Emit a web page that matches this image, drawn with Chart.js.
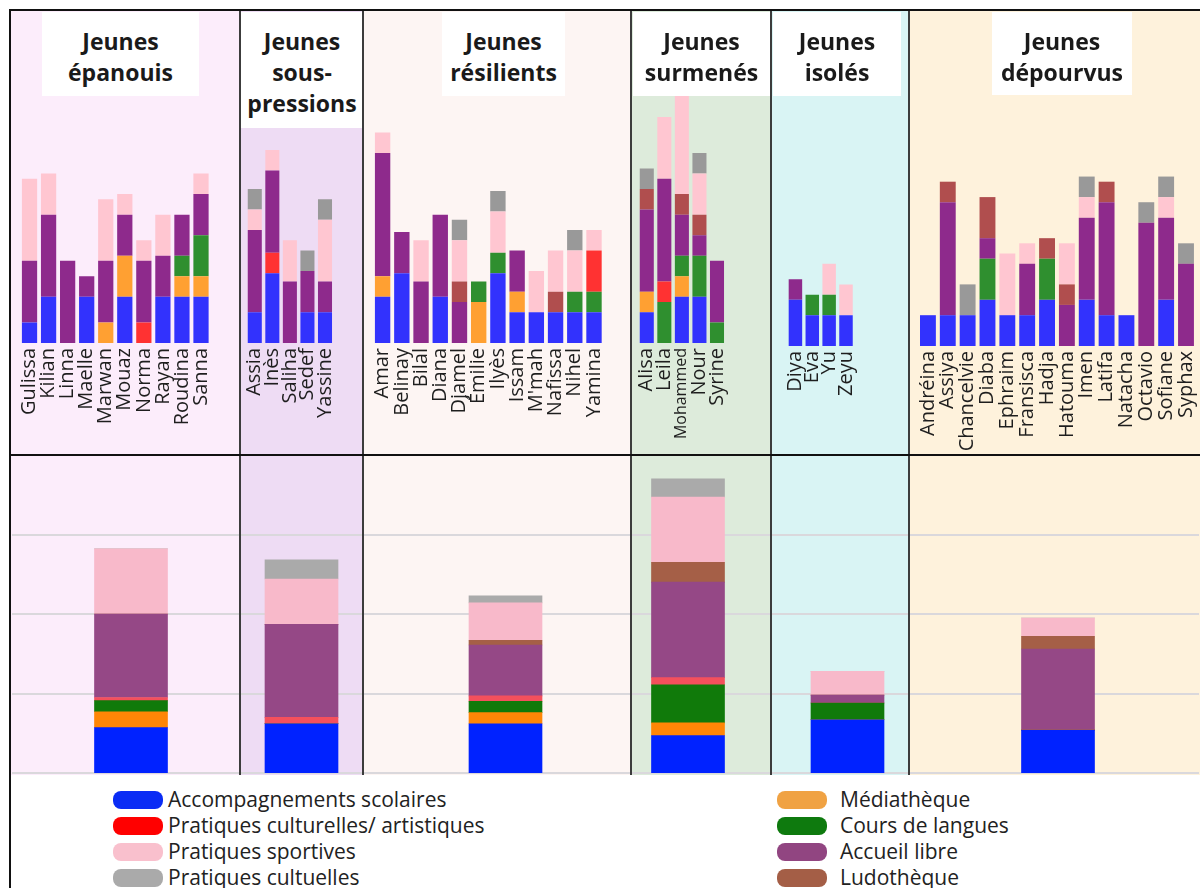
<!DOCTYPE html>
<html><head><meta charset="utf-8">
<script src="https://cdn.jsdelivr.net/npm/chart.js@4/dist/chart.umd.min.js"></script>
<style>
html,body{margin:0;padding:0;background:#fff;}
body{width:1200px;height:888px;overflow:hidden;position:relative;font-family:'Open Sans',sans-serif;}
.abs{position:absolute;}
.title{position:absolute;background:#fff;font-weight:700;font-size:23px;line-height:31px;text-align:center;color:#1a1a1a;box-sizing:border-box;padding-top:14px;z-index:3;}
.sep{position:absolute;background:#3c3c3c;z-index:4;}
.frame{position:absolute;background:#111;z-index:5;}
.leg{position:absolute;font-size:21px;color:#222;line-height:24px;white-space:nowrap;}
.sw{position:absolute;width:50px;height:18px;border-radius:8px;}
canvas{position:absolute;z-index:2;}
</style></head><body>
<script>
// ---------------- DATA ----------------
const SERIES = ['Accompagnements scolaires','Pratiques culturelles/ artistiques','Pratiques sportives','Pratiques cultuelles','Médiathèque','Cours de langues','Accueil libre','Ludothèque'];
const STACK_ORDER = [0,4,5,1,6,7,2,3];

const GROUP_TITLES = [['Jeunes','épanouis'],['Jeunes','sous-','pressions'],['Jeunes','résilients'],['Jeunes','surmenés'],['Jeunes','isolés'],['Jeunes','dépourvus']];

// rows follow SERIES order
const epanouisNames = ['Gulissa','Kilian','Linna','Maelle','Marwan','Mouaz','Norma','Rayan','Roudina','Sanna'];
const epanouisValues = [
  [2,4.5,0,4.5,0,4.5,0,4.5,4.5,4.5],
  [0,0,0,0,0,0,2,0,0,0],
  [8,4,0,0,6,2,2,4,0,2],
  [0,0,0,0,0,0,0,0,0,0],
  [0,0,0,0,2,4,0,0,2,2],
  [0,0,0,0,0,0,0,0,2,4],
  [6,8,8,2,6,4,6,4,4,4],
  [0,0,0,0,0,0,0,0,0,0]
];
const pressionsNames = ['Assia','Inès','Saliha','Sedef','Yassine'];
const pressionsValues = [
  [3,6.8,0,3,3],
  [0,2,0,0,0],
  [2,2,4,0,6],
  [2,0,0,2,2],
  [0,0,0,0,0],
  [0,0,0,0,0],
  [8,8,6,4,3],
  [0,0,0,0,0]
];
const resilientsNames = ['Amar','Belinay','Bilal','Diana','Djamel','Émilie','Ilyès','Issam',"M'mah",'Nafissa','Nihel','Yamina'];
const resilientsValues = [
  [4.5,6.8,0,4.5,0,0,6.8,3,3,3,3,3],
  [0,0,0,0,0,0,0,0,0,0,0,4],
  [2,0,4,0,4,0,4,0,4,4,4,2],
  [0,0,0,0,2,0,2,0,0,0,2,0],
  [2,0,0,0,0,4,0,2,0,0,0,0],
  [0,0,0,0,0,2,2,0,0,0,2,2],
  [12,4,6,8,4,0,0,4,0,0,0,0],
  [0,0,0,0,2,0,0,0,0,2,0,0]
];
const surmenesNames = ['Alisa','Leila','Mohammed','Nour','Syrine'];
const surmenesValues = [
  [3,0,4.5,4.5,0],
  [0,2,0,0,0],
  [0,6,10,4,0],
  [2,0,0,2,0],
  [2,0,2,0,0],
  [0,4,2,4,2],
  [8,10,4,2,6],
  [2,0,2,2,0]
];
const isolesNames = ['Diya','Eva','Yu','Zeyu'];
const isolesValues = [
  [4.5,3,3,3],
  [0,0,0,0],
  [0,0,3,3],
  [0,0,0,0],
  [0,0,0,0],
  [0,2,2,0],
  [2,0,0,0],
  [0,0,0,0]
];
const depourvusNames = ['Andréina','Assiya','Chancelvie','Diaba','Ephraim','Fransisca','Hadja','Hatouma','Imen','Latifa','Natacha','Octavio','Sofiane','Syphax'];
const depourvusValues = [
  [3,3,3,4.5,3,3,4.5,0,4.5,3,3,0,4.5,0],
  [0,0,0,0,0,0,0,0,0,0,0,0,0,0],
  [0,0,0,0,6,2,0,4,2,0,0,0,2,0],
  [0,0,3,0,0,0,0,0,2,0,0,2,2,2],
  [0,0,0,0,0,0,0,0,0,0,0,0,0,0],
  [0,0,0,4,0,0,4,0,0,0,0,0,0,0],
  [0,11,0,2,0,5,0,4,8,11,0,12,8,8],
  [0,2,0,4,0,0,2,2,0,2,0,0,0,0]
];
// group averages (bottom panel), rows follow SERIES order, columns = groups
const averageValues = [
  [0.57,0.62,0.62,0.47,0.67,0.54],
  [0.04,0.08,0.07,0.09,0,0.01],
  [0.82,0.57,0.47,0.82,0.30,0.23],
  [0,0.24,0.09,0.23,0,0],
  [0.20,0,0.14,0.16,0,0],
  [0.14,0,0.14,0.48,0.21,0],
  [1.05,1.17,0.64,1.20,0.10,1.01],
  [0,0,0.06,0.25,0,0.16]
];
const AVG_GRID_VALUES = [0,1,2,3];
const TOP_MAX = 26;
const AVG_MAX = 4;

// ---------------- STYLES / LAYOUT ----------------
const TOP_COLORS = ['#3232fd','#ff3232','#ffc6d1','#999999','#ffa032','#2f8f2f','#8e2a8c','#b04e4e'];
const AVG_COLORS = ['#0022ff','#f4505c','#f8b9ca','#aaaaaa','#ff8606','#107a0a','#954886','#a55f47'];
const LEGEND_COLORS = ['#0a2cf5','#ff0000','#f9c0cd','#aaaaaa','#f0a243','#0e7a0e','#914581','#a45e46'];
const COL_BG = ['#fcedfb','#eedcf4','#fdf5f3','#ddebdb','#d9f4f4','#fef2dc'];
const COLS = [[11,240],[240,363],[363,631],[631,771],[771,909],[909,1200]];
const TITLE_BOX = [[42,157,84],[241,122,116],[442,123,84],[633,137,84],[773,128,84],[992,140,83]];
const TOP_LAYOUT = [[20,20.56,343],[246,20.7,343],[373,20.49,343],[638,20.85,343],[787,21,346],[918,20.9,346]];
const AVG_CENTERS = [131.5,302,506,688,848,1058.5];
const UNIT = 10.27;

const groups = [
  [epanouisNames, epanouisValues],
  [pressionsNames, pressionsValues],
  [resilientsNames, resilientsValues],
  [surmenesNames, surmenesValues],
  [isolesNames, isolesValues],
  [depourvusNames, depourvusValues]
];

function el(cls, css, html){
  const d=document.createElement('div'); d.className=cls; Object.assign(d.style,css); if(html!==undefined) d.innerHTML=html; document.body.appendChild(d); return d;
}
function canvasAt(left, top, w, h){
  const c=document.createElement('canvas'); c.width=w; c.height=h; c.style.left=left+'px'; c.style.top=top+'px'; c.style.width=w+'px'; c.style.height=h+'px'; document.body.appendChild(c); return c;
}

Chart.defaults.font.family = "'Open Sans', sans-serif";

const gridPlugin = {
  id:'fullGrid',
  beforeDatasetsDraw(chart){
    const y=chart.scales.y, ctx=chart.ctx;
    ctx.save(); ctx.strokeStyle='#dad8dc'; ctx.lineWidth=2;
    AVG_GRID_VALUES.forEach(v=>{ const py=Math.round(y.getPixelForValue(v)); ctx.beginPath(); ctx.moveTo(0,py); ctx.lineTo(chart.width,py); ctx.stroke(); });
    ctx.restore();
  }
};

groups.forEach(([names, values], g)=>{
  const [x0,x1]=COLS[g];
  // backgrounds
  el('abs',{left:x0+'px',top:'11px',width:(x1-x0)+'px',height:'444px',background:COL_BG[g]});
  el('abs',{left:x0+'px',top:'456px',width:(x1-x0)+'px',height:'319px',background:COL_BG[g]});
  // title
  const [tl,tw,th]=TITLE_BOX[g];
  el('title',{left:tl+'px',top:'12px',width:tw+'px',height:th+'px'}, GROUP_TITLES[g].join('<br>'));
  // top chart
  const [left,pitch,base]=TOP_LAYOUT[g];
  const areaH=Math.round(TOP_MAX*UNIT);
  const axisH=453-base;
  const w=Math.round(names.length*pitch);
  const cv=canvasAt(left, base-areaH, w, areaH+axisH);
  new Chart(cv,{
    type:'bar',
    data:{labels:names, datasets:STACK_ORDER.map(s=>({label:SERIES[s], data:values[s], backgroundColor:TOP_COLORS[s], borderWidth:0, barPercentage:0.8, categoryPercentage:1}))},
    options:{responsive:false, animation:false, events:[],
      plugins:{legend:{display:false}, tooltip:{enabled:false}},
      layout:{padding:0},
      scales:{
        x:{stacked:true, grid:{display:false, drawTicks:false}, border:{display:false},
           ticks:{autoSkip:false, minRotation:90, maxRotation:90, padding:5, color:'#1e1e1e',
             font:(c)=>({family:"'Open Sans', sans-serif", size:(c.tick && c.tick.label==='Mohammed')?16:20, lineHeight:1})},
           afterFit:(s)=>{s.height=axisH;}},
        y:{stacked:true, display:false, min:0, max:TOP_MAX}
      }}
  });
  // bottom (averages) chart
  const mid=(x0+x1)/2, c=AVG_CENTERS[g];
  const pl=c>mid?2*(c-mid):0, pr=c<mid?2*(mid-c):0;
  const bx0=x0+1, bw=x1-x0-2;
  const cb=canvasAt(bx0, 455, bw, 320);
  new Chart(cb,{
    type:'bar',
    data:{labels:[GROUP_TITLES[g].join(' ')], datasets:STACK_ORDER.map(s=>({label:SERIES[s], data:[averageValues[s][g]], backgroundColor:AVG_COLORS[s], borderWidth:0, barThickness:73}))},
    options:{responsive:false, animation:false, events:[],
      plugins:{legend:{display:false}, tooltip:{enabled:false}},
      layout:{padding:{left:pl-1, right:pr, top:0, bottom:2}},
      scales:{x:{stacked:true, display:false}, y:{stacked:true, display:false, min:0, max:AVG_MAX}}},
    plugins:[gridPlugin]
  });
});

// separators
[240,363,631,771,909].forEach(x=>el('sep',{left:(x-1)+'px',top:'11px',width:'2px',height:'764px'}));
// frame
el('frame',{left:'9px',top:'9px',width:'1191px',height:'2px'});
el('frame',{left:'9px',top:'9px',width:'2px',height:'879px'});
el('frame',{left:'9px',top:'454px',width:'1191px',height:'2px'});

// legend
const LEG_POS = [[113,168,800],[113,168,826],[113,168,852],[113,168,878],[777,840,800],[777,840,826],[777,840,852],[777,840,878]];
SERIES.forEach((name,i)=>{
  const [sx,tx,cy]=LEG_POS[i];
  el('sw',{left:sx+'px',top:(cy-9)+'px',background:LEGEND_COLORS[i]});
  el('leg',{left:tx+'px',top:(cy-13)+'px'}, name);
});
</script>
</body></html>
